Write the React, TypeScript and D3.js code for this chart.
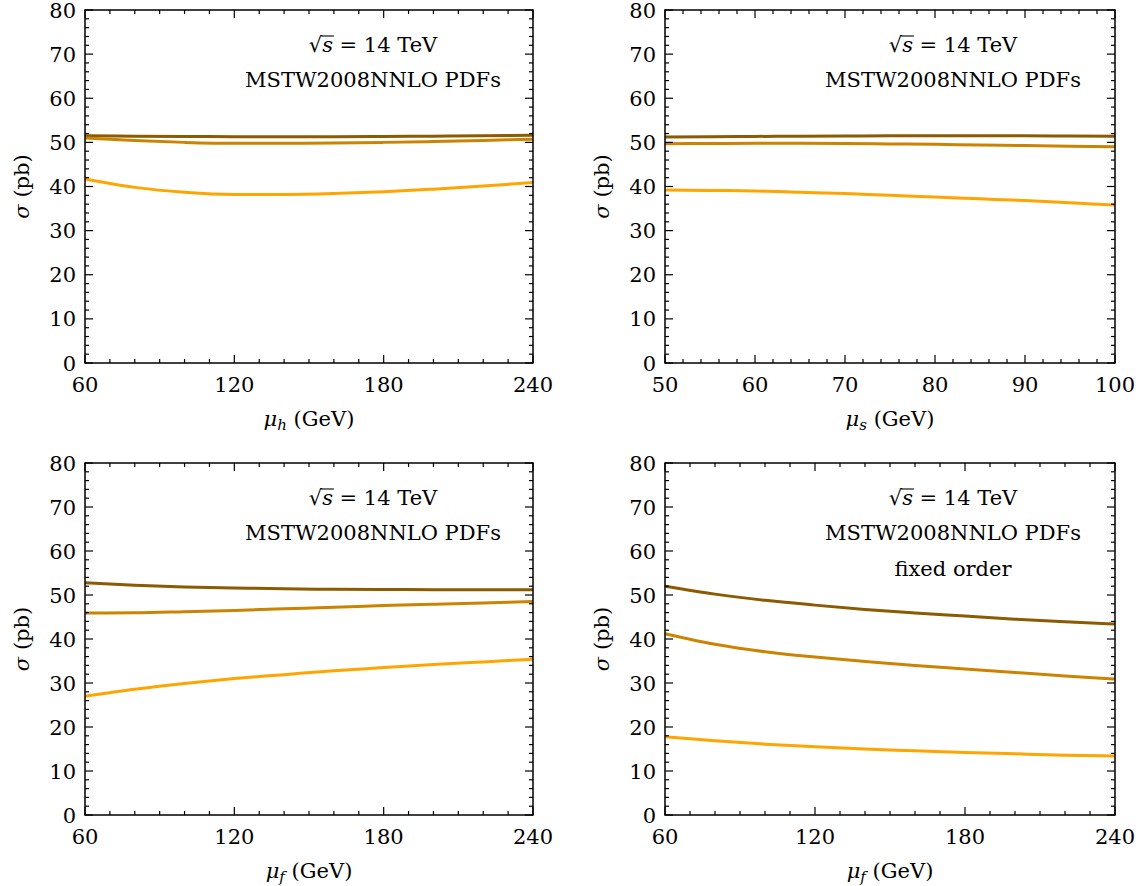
import React, { useEffect, useRef } from "react";
import * as d3 from "d3";

// ---- data ----
const muhX = [60, 80, 100, 120, 140, 160, 180, 200, 220, 240];
const muhDark = [51.5, 51.4, 51.35, 51.3, 51.3, 51.3, 51.35, 51.4, 51.5, 51.6];
const muhMid = [51.0, 50.4, 50.0, 49.8, 49.8, 49.85, 50.0, 50.2, 50.45, 50.7];
const muhLight = [41.7, 39.8, 38.7, 38.2, 38.2, 38.4, 38.8, 39.4, 40.1, 40.9];

const musX = [50, 55, 60, 65, 70, 75, 80, 85, 90, 95, 100];
const musDark = [51.2, 51.3, 51.35, 51.4, 51.45, 51.5, 51.5, 51.5, 51.5, 51.45, 51.4];
const musMid = [49.7, 49.75, 49.8, 49.8, 49.75, 49.65, 49.55, 49.4, 49.3, 49.15, 49.0];
const musLight = [39.2, 39.1, 39.0, 38.7, 38.4, 38.0, 37.6, 37.2, 36.8, 36.3, 35.8];

const mufX = [60, 80, 100, 120, 140, 160, 180, 200, 220, 240];
const mufDark = [52.8, 52.2, 51.8, 51.6, 51.4, 51.3, 51.25, 51.2, 51.2, 51.2];
const mufMid = [45.9, 45.95, 46.2, 46.5, 46.85, 47.2, 47.6, 47.9, 48.2, 48.5];
const mufLight = [27.0, 28.6, 29.9, 31.0, 31.9, 32.8, 33.5, 34.2, 34.8, 35.4];

const foX = [60, 80, 100, 120, 140, 160, 180, 200, 220, 240];
const foDark = [52.0, 50.2, 48.8, 47.7, 46.7, 45.9, 45.2, 44.5, 43.9, 43.4];
const foMid = [41.2, 38.8, 37.1, 35.9, 34.9, 34.0, 33.2, 32.4, 31.6, 30.9];
const foLight = [17.8, 16.9, 16.1, 15.5, 15.0, 14.6, 14.2, 13.9, 13.6, 13.4];

const yTicks = [0, 10, 20, 30, 40, 50, 60, 70, 80];
const xTicksMu = [60, 120, 180, 240];
const xTicksMus = [50, 60, 70, 80, 90, 100];

const colors = ["#8c5a00", "#cc8400", "#ffa500"];

type Panel = {
  left: number; top: number; right: number; bottom: number;
  xDomain: [number, number]; xTicks: number[]; xMinorStep: number;
  xSub: string; x: number[]; series: number[][]; extra?: string;
};

const panels: Panel[] = [
  { left: 85, top: 10, right: 533, bottom: 363, xDomain: [60, 240], xTicks: xTicksMu, xMinorStep: 10, xSub: "h", x: muhX, series: [muhDark, muhMid, muhLight] },
  { left: 665, top: 10, right: 1115, bottom: 363, xDomain: [50, 100], xTicks: xTicksMus, xMinorStep: 2, xSub: "s", x: musX, series: [musDark, musMid, musLight] },
  { left: 85, top: 463, right: 533, bottom: 815, xDomain: [60, 240], xTicks: xTicksMu, xMinorStep: 10, xSub: "f", x: mufX, series: [mufDark, mufMid, mufLight] },
  { left: 665, top: 463, right: 1115, bottom: 815, xDomain: [60, 240], xTicks: xTicksMu, xMinorStep: 10, xSub: "f", x: foX, series: [foDark, foMid, foLight], extra: "fixed order" },
];

const FONT = "'DejaVu Serif', 'Liberation Serif', serif";
const FS = 21;

export default function App() {
  const ref = useRef<SVGSVGElement>(null);
  useEffect(() => {
    const svg = d3.select(ref.current);
    svg.selectAll("*").remove();
    svg.append("rect").attr("width", 1146).attr("height", 886).attr("fill", "white");

    panels.forEach((p) => {
      const g = svg.append("g");
      const xs = d3.scaleLinear().domain(p.xDomain).range([p.left, p.right]);
      const ys = d3.scaleLinear().domain([0, 80]).range([p.bottom, p.top]);

      // curves
      const line = d3.line<number>()
        .x((_, i) => xs(p.x[i]))
        .y((d) => ys(d))
        .curve(d3.curveMonotoneX);
      p.series.forEach((s, i) => {
        g.append("path").attr("d", line(s)).attr("fill", "none")
          .attr("stroke", colors[i]).attr("stroke-width", 3);
      });

      // frame
      g.append("rect").attr("x", p.left).attr("y", p.top)
        .attr("width", p.right - p.left).attr("height", p.bottom - p.top)
        .attr("fill", "none").attr("stroke", "#000").attr("stroke-width", 1.5);

      // y ticks
      const yMinor = d3.range(0, 80.01, 2);
      yMinor.forEach((v) => {
        const major = v % 10 === 0;
        const len = major ? 8 : 4;
        const y = ys(v);
        g.append("line").attr("x1", p.left).attr("x2", p.left + len).attr("y1", y).attr("y2", y).attr("stroke", "#000").attr("stroke-width", 1.2);
        g.append("line").attr("x1", p.right).attr("x2", p.right - len).attr("y1", y).attr("y2", y).attr("stroke", "#000").attr("stroke-width", 1.2);
      });
      yTicks.forEach((v) => {
        g.append("text").attr("x", p.left - 9).attr("y", ys(v) + 7.5)
          .attr("text-anchor", "end").attr("font-family", FONT).attr("font-size", FS).text(String(v));
      });

      // x ticks
      const xMinor = d3.range(p.xDomain[0], p.xDomain[1] + 0.01, p.xMinorStep);
      xMinor.forEach((v) => {
        const major = p.xTicks.includes(v);
        const len = major ? 8 : 4;
        const x = xs(v);
        g.append("line").attr("x1", x).attr("x2", x).attr("y1", p.bottom).attr("y2", p.bottom - len).attr("stroke", "#000").attr("stroke-width", 1.2);
        g.append("line").attr("x1", x).attr("x2", x).attr("y1", p.top).attr("y2", p.top + len).attr("stroke", "#000").attr("stroke-width", 1.2);
      });
      p.xTicks.forEach((v) => {
        g.append("text").attr("x", xs(v)).attr("y", p.bottom + 29)
          .attr("text-anchor", "middle").attr("font-family", FONT).attr("font-size", FS).text(String(v));
      });

      // x title
      const cx = (p.left + p.right) / 2;
      const xt = g.append("text").attr("x", cx).attr("y", p.bottom + 63)
        .attr("text-anchor", "middle").attr("font-family", FONT).attr("font-size", FS);
      xt.append("tspan").attr("font-style", "italic").text("μ");
      xt.append("tspan").attr("font-style", "italic").attr("font-size", 15).attr("dy", 4).text(p.xSub);
      xt.append("tspan").attr("dy", -4).text("\u00a0(GeV)");

      // y title
      const cy = (p.top + p.bottom) / 2;
      const yt = g.append("text").attr("transform", `translate(${p.left - 56},${cy}) rotate(-90)`)
        .attr("text-anchor", "middle").attr("font-family", FONT).attr("font-size", FS);
      yt.append("tspan").attr("font-style", "italic").text("σ");
      yt.append("tspan").text("\u00a0(pb)");

      // annotation
      const ax = p.left + 288;
      const t1 = g.append("text").attr("x", ax).attr("y", p.top + 42)
        .attr("text-anchor", "middle").attr("font-family", FONT).attr("font-size", FS);
      t1.append("tspan").text("√");
      t1.append("tspan").attr("font-style", "italic").text("s");
      t1.append("tspan").text(" = 14 TeV");
      try {
        const node = t1.node() as SVGTextElement;
        const ext = node.getExtentOfChar(1);
        const ext0 = node.getExtentOfChar(0);
        g.append("line").attr("x1", ext0.x + ext0.width - 1).attr("x2", ext.x + ext.width + 1)
          .attr("y1", ext0.y + 3).attr("y2", ext0.y + 3).attr("stroke", "#000").attr("stroke-width", 1.1);
      } catch (e) { /* ignore */ }
      g.append("text").attr("x", ax).attr("y", p.top + 77)
        .attr("text-anchor", "middle").attr("font-family", FONT).attr("font-size", FS).text("MSTW2008NNLO PDFs");
      if (p.extra) {
        g.append("text").attr("x", ax).attr("y", p.top + 113)
          .attr("text-anchor", "middle").attr("font-family", FONT).attr("font-size", FS).text(p.extra);
      }
    });
  }, []);
  return (
    <svg ref={ref} width={1146} height={886} style={{ position: "absolute", left: 0, top: 0 }} />
  );
}
